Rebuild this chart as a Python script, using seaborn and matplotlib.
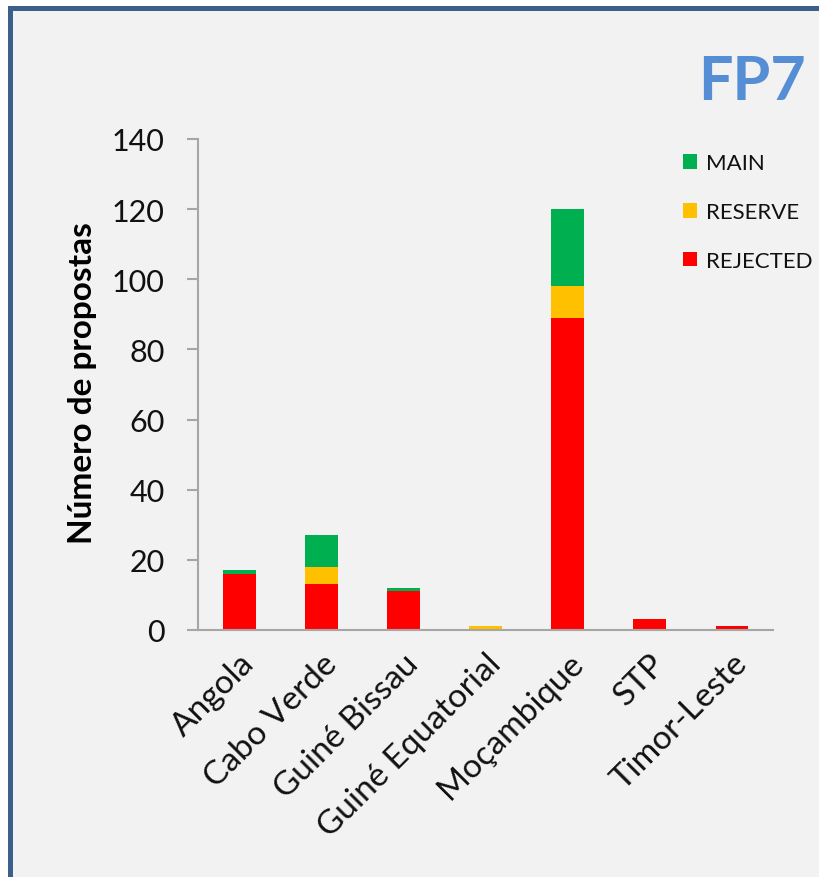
import matplotlib
matplotlib.use("Agg")
import matplotlib.pyplot as plt
from matplotlib.patches import Rectangle, Patch
import pandas as pd
import seaborn as sns

# dados
paises = ["Angola", "Cabo Verde", "Guiné Bissau", "Guiné Equatorial",
          "Moçambique", "STP", "Timor-Leste"]
rejected = [16, 13, 11, 0, 89, 3, 1]
reserve = [0, 5, 0, 1, 9, 0, 0]
main = [1, 9, 1, 0, 22, 0, 0]
y_ticks = [0, 20, 40, 60, 80, 100, 120, 140]

cores = {"MAIN": "#00B050", "RESERVE": "#FFC000", "REJECTED": "#FF0000"}
texto = "#111111"

df = pd.DataFrame({"pais": paises, "rejected": rejected,
                   "reserve": reserve, "main": main})
df["ate_reserve"] = df["rejected"] + df["reserve"]
df["total"] = df["ate_reserve"] + df["main"]

sns.set_style("white")
plt.rcParams["font.family"] = ["Lato", "DejaVu Sans"]

fig = plt.figure(figsize=(8.19, 8.78), dpi=100)
fig.patch.set_facecolor("white")

# moldura azul com fundo cinza (por baixo dos eixos)
fig.patches.append(Rectangle((9.5 / 819, -0.1), 1.2, 1 - 8.5 / 878 + 0.1,
                             transform=fig.transFigure, facecolor="#F2F2F2",
                             edgecolor="#3B608C", linewidth=3.6, zorder=-5))

ax = fig.add_axes([198 / 819, 1 - 631 / 878, (773 - 198) / 819, (631 - 140) / 878])
ax.set_facecolor("none")

# barras empilhadas: total por baixo, depois as camadas
sns.barplot(data=df, x="pais", y="total", color=cores["MAIN"], width=0.4,
            saturation=1, linewidth=0, ax=ax)
sns.barplot(data=df, x="pais", y="ate_reserve", color=cores["RESERVE"], width=0.4,
            saturation=1, linewidth=0, ax=ax)
sns.barplot(data=df, x="pais", y="rejected", color=cores["REJECTED"], width=0.4,
            saturation=1, linewidth=0, ax=ax)

ax.set_ylim(0, 140)
ax.set_xlim(-0.5, len(paises) - 0.5)
ax.set_yticks(y_ticks)
ax.set_yticklabels([str(v) for v in y_ticks], fontsize=22, color=texto)
ax.set_xticks(range(len(paises)))
ax.set_xticklabels(paises, rotation=45, ha="right", rotation_mode="anchor",
                   fontsize=24, color=texto)
ax.set_xticks([i - 0.5 for i in range(len(paises) + 1)], minor=True)
ax.tick_params(axis="x", which="major", length=0, pad=13)
ax.tick_params(axis="x", which="minor", length=7, width=1.5, color="#A6A6A6")
ax.tick_params(axis="y", length=8, width=1.5, color="#A6A6A6", pad=16, left=True)

sns.despine(ax=ax)
for s in ["left", "bottom"]:
    ax.spines[s].set_color("#A6A6A6")
    ax.spines[s].set_linewidth(1.5)

ax.set_xlabel("")
ax.set_ylabel("Número de propostas", fontsize=24, fontweight="bold", color="black")
ax.yaxis.set_label_coords(-0.176, 0.505)

handles = [Patch(facecolor=cores[k], edgecolor="none") for k in ["MAIN", "RESERVE", "REJECTED"]]
fig.legend(handles, ["MAIN", "RESERVE", "REJECTED"], loc="upper left",
           bbox_to_anchor=(663 / 819, 1 - 134 / 878), frameon=False,
           fontsize=16, handlelength=0.65, handleheight=0.65, handletextpad=0.4,
           labelspacing=1.3, labelcolor=texto)

fig.text(806 / 819, 1 - 82 / 878, "FP7", ha="right", va="center",
         fontsize=44, fontweight="bold", color="#558ED5")

fig.savefig("out.png", dpi=100)
